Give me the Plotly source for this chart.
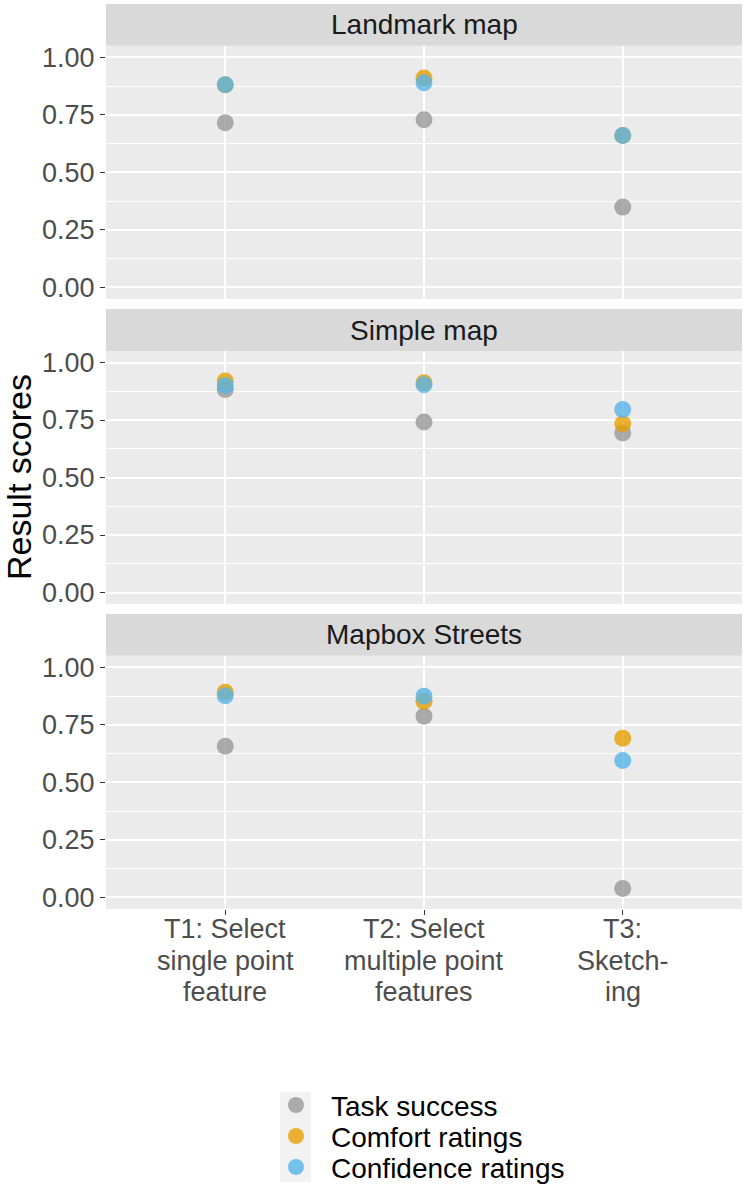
import plotly.graph_objects as go

# ---------------- data ----------------
tasks = ["T1", "T2", "T3"]
tick_lines = [
    ["T1: Select", "single point", "feature"],
    ["T2: Select", "multiple point", "features"],
    ["T3:", "Sketch-", "ing"],
]
panels = ["Landmark map", "Simple map", "Mapbox Streets"]
series_names = ["Task success", "Comfort ratings", "Confidence ratings"]

landmark_task = [0.715, 0.728, 0.349]
landmark_comfort = [0.880, 0.910, 0.660]
landmark_confidence = [0.880, 0.889, 0.660]

simple_task = [0.883, 0.741, 0.694]
simple_comfort = [0.920, 0.912, 0.734]
simple_confidence = [0.900, 0.903, 0.796]

mapbox_task = [0.657, 0.787, 0.039]
mapbox_comfort = [0.891, 0.852, 0.692]
mapbox_confidence = [0.876, 0.874, 0.595]

panel_data = [
    [landmark_task, landmark_comfort, landmark_confidence],
    [simple_task, simple_comfort, simple_confidence],
    [mapbox_task, mapbox_comfort, mapbox_confidence],
]

# ---------------- style ----------------
W, H = 744, 1187
ML, MR = 106, 2
PW = W - ML - MR
FONT = "Liberation Sans, Arial, Helvetica, sans-serif"
colors = ["#999999", "#E69F00", "#56B4E9"]
OPACITY = 0.8
MSIZE = 17


def py(px):
    """pixel (from top) -> paper fraction (margins t=b=0)"""
    return 1 - px / H


def pxx(px):
    """pixel (from left) -> paper fraction"""
    return (px - ML) / PW


# plot areas (pixel top, bottom) and strips
plot_px = [(45.7, 299), (351, 604), (655.7, 909)]
strip_px = [(4, 45.7), (309, 351), (614, 655.7)]

fig = go.Figure()

for p in range(3):
    ax = "" if p == 0 else str(p + 1)
    for s in range(3):
        fig.add_trace(go.Scatter(
            x=tasks, y=panel_data[p][s],
            mode="markers",
            name=series_names[s],
            legendgroup=series_names[s],
            showlegend=False,
            marker=dict(color=colors[s], size=MSIZE, opacity=OPACITY,
                        line=dict(width=0)),
            xaxis="x" + ax, yaxis="y" + ax,
            hoverinfo="x+y+name",
        ))

layout = dict(
    width=W, height=H,
    margin=dict(l=ML, r=MR, t=0, b=0, autoexpand=False),
    paper_bgcolor="white",
    plot_bgcolor="#EBEBEB",
    font=dict(family=FONT, color="#4D4D4D"),
    showlegend=False,
)

for p in range(3):
    ax = "" if p == 0 else str(p + 1)
    top, bot = plot_px[p]
    layout["xaxis" + ax] = dict(
        type="category",
        categoryorder="array", categoryarray=tasks,
        range=[-0.6, 2.6],
        domain=[0, 1],
        anchor="y" + ax,
        showgrid=True, gridcolor="white", gridwidth=1.6,
        zeroline=False, showline=False,
        showticklabels=False,
        ticks="outside" if p == 2 else "",
        ticklen=5, tickwidth=1.1, tickcolor="#333333",
        fixedrange=True,
    )
    layout["yaxis" + ax] = dict(
        domain=[py(bot), py(top)],
        anchor="x" + ax,
        range=[-0.05, 1.05],
        tickmode="linear", tick0=0, dtick=0.25,
        tickformat=".2f",
        showgrid=True, gridcolor="white", gridwidth=1.6,
        minor=dict(tick0=0.125, dtick=0.25, showgrid=True,
                   gridcolor="white", gridwidth=0.8, ticks=""),
        zeroline=False, showline=False,
        ticks="outside", ticklen=5, tickwidth=1.1, tickcolor="#333333",
        tickfont=dict(size=27, color="#4D4D4D", family=FONT),
        fixedrange=True,
    )

shapes = []
annotations = []
for p in range(3):
    t, b = strip_px[p]
    shapes.append(dict(type="rect", xref="paper", yref="paper",
                       x0=0, x1=1, y0=py(b), y1=py(t),
                       fillcolor="#D9D9D9", line=dict(width=0), layer="below"))
    annotations.append(dict(text=panels[p], xref="paper", yref="paper",
                            x=0.5, y=py((t + b) / 2), xanchor="center",
                            yanchor="middle", showarrow=False,
                            font=dict(size=28, color="#1A1A1A", family=FONT)))

# multi-line x tick labels under the bottom panel
line_px = [929, 960.5, 992]
for i, lines in enumerate(tick_lines):
    for j, txt in enumerate(lines):
        annotations.append(dict(text=txt, xref="x3", yref="paper",
                                x=tasks[i], y=py(line_px[j]),
                                xanchor="center", yanchor="middle",
                                showarrow=False,
                                font=dict(size=27, color="#4D4D4D", family=FONT)))

# y axis title
annotations.append(dict(text="Result scores", xref="paper", yref="paper",
                        x=pxx(19), y=py(477),
                        xanchor="center", yanchor="middle", textangle=-90,
                        showarrow=False,
                        font=dict(size=34, color="#000000", family=FONT)))

# legend (ggplot-style: grey key background, circles, labels)
shapes.append(dict(type="rect", xref="paper", yref="paper",
                   x0=pxx(280), x1=pxx(311), y0=py(1182), y1=py(1092),
                   fillcolor="#F2F2F2", line=dict(width=0), layer="below"))
legend_rows_px = [1105, 1136, 1167]
key_r = 8
for s, name in enumerate(series_names):
    yc = legend_rows_px[s]
    shapes.append(dict(type="circle", xref="paper", yref="paper",
                       x0=pxx(296 - key_r), x1=pxx(296 + key_r),
                       y0=py(yc + key_r), y1=py(yc - key_r),
                       fillcolor=colors[s], opacity=OPACITY,
                       line=dict(width=0), layer="above"))
    annotations.append(dict(text=name, xref="paper", yref="paper",
                            x=pxx(329), y=py(yc + 1.5),
                            xanchor="left", yanchor="middle",
                            showarrow=False,
                            font=dict(size=28, color="#000000", family=FONT)))

layout["shapes"] = shapes
layout["annotations"] = annotations
fig.update_layout(**layout)

fig.write_html(
    "out.html",
    config={"displayModeBar": False},
    post_script="document.body.style.margin='0';document.body.style.overflow='hidden';",
)
